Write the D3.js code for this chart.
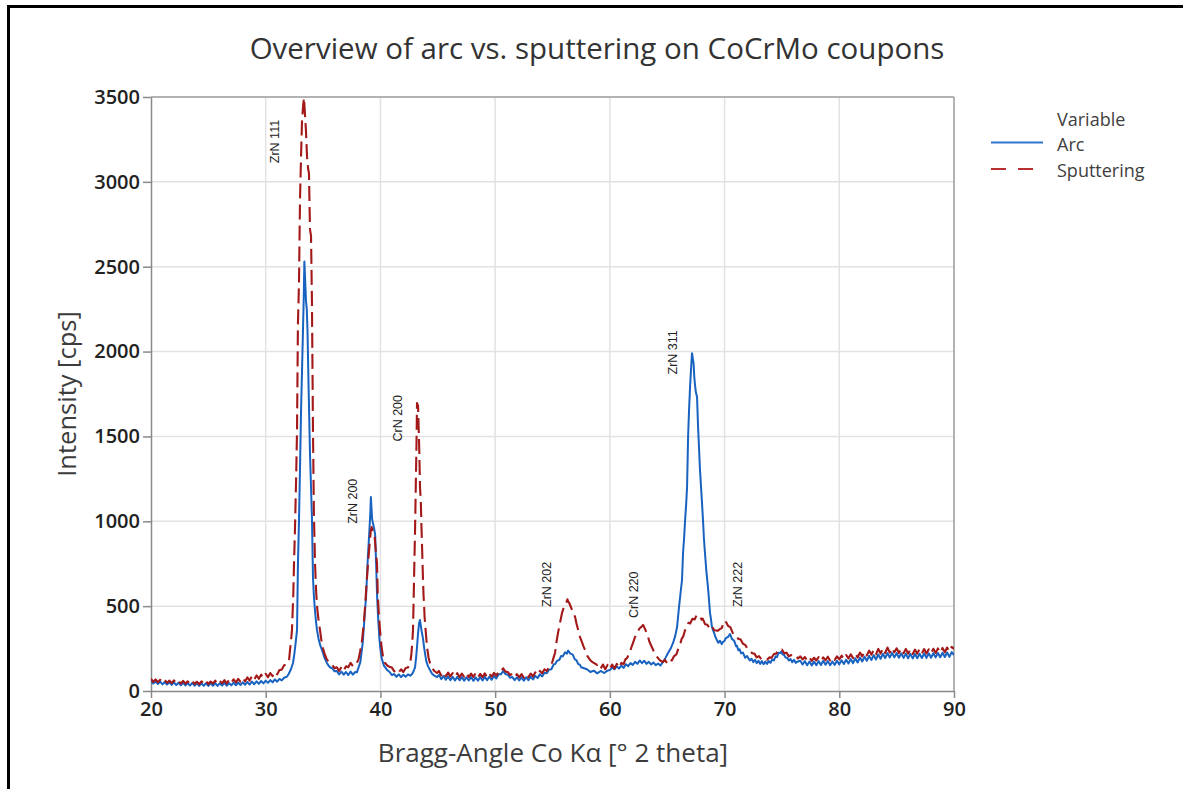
<!DOCTYPE html>
<html><head><meta charset="utf-8">
<script src="https://cdn.jsdelivr.net/npm/d3@7"></script>
<style>body{margin:0;background:#fff;} svg{display:block;font-family:"Open Sans",sans-serif;}</style>
</head><body><svg id="c" width="1183" height="789"></svg>
<script>
// ---- data (2θ angle, intensity cps) ----
const sputteringData = [
[20,72],[20.2,54],[20.4,68],[20.6,52],[20.8,66],[21,50],[21.2,64],[21.4,49],[21.6,61],[21.8,47],[22,63],[22.2,45],[22.4,58],[22.6,44],[22.8,60],[23,43],[23.2,57],[23.4,41],[23.6,58],[23.8,42],[24,55],[24.2,40],[24.4,57],[24.6,43],[24.8,60],[25,41],[25.2,56],[25.4,44],[25.6,61],[25.8,42],[26,59],[26.2,45],[26.4,64],[26.6,44],[26.8,66],[27,48],[27.2,69],[27.4,50],[27.6,72],[27.8,55],[28,77],[28.2,57],[28.4,80],[28.6,61],[28.8,88],[29,66],[29.2,92],[29.4,72],[29.6,96],[29.8,76],[30,101],[30.2,81],[30.4,106],[30.6,88],[30.8,114],[31,98],[31.2,124],[31.4,126],[31.6,152],[31.8,156],[32.03,178],
[32.12,242],[32.2,290],[32.29,360],[32.4,560],[32.47,760],[32.55,950],[32.65,1250],[32.73,1540],[32.81,2170],[32.9,2400],[32.99,2900],[33.08,3150],[33.16,3350],[33.26,3450],[33.34,3495],[33.42,3400],[33.51,3300],[33.6,3150],[33.69,3080],[33.77,3050],[33.86,2720],[33.95,2680],[34.03,2300],[34.12,1540],[34.2,1050],[34.3,750],[34.4,580],[34.5,480],[34.62,410],[34.73,360],[34.85,300],[35.0,250],[35.15,215],[35.3,190],[35.45,175],[35.6,165],
[35.8,156],[36,134],[36.2,140],[36.4,118],[36.6,142],[36.8,120],[37,146],[37.2,140],[37.4,166],[37.6,146],[37.8,170],[38.0,172],
[38.1,190],[38.22,230],[38.4,300],[38.55,400],[38.66,495],[38.8,640],[38.92,754],[39.05,860],[39.15,940],[39.23,966],[39.32,945],[39.42,920],[39.5,907],[39.6,820],[39.7,754],[39.77,560],[39.87,440],[39.96,360],[40.1,260],[40.23,200],[40.4,165],[40.6,150],[40.84,141],
[41,138],[41.2,116],[41.4,126],[41.6,110],[41.8,128],[42,112],[42.2,136],[42.4,138],[42.6,165],
[42.7,220],[42.78,290],[42.84,360],[42.9,554],[42.96,760],[43.02,950],[43.08,1200],[43.14,1440],[43.19,1697],[43.28,1680],[43.38,1438],[43.45,1200],[43.52,1120],[43.58,960],[43.63,849],[43.7,680],[43.76,560],[43.8,518],[43.85,436],[43.95,350],[44.06,260],[44.2,195],[44.32,165],[44.5,135],[44.7,118],[44.93,106],
[45.1,118],[45.3,92],[45.5,112],[45.7,88],[45.9,108],[46.1,86],[46.3,106],[46.5,84],[46.7,105],[46.9,82],[47.1,103],[47.3,84],[47.5,106],[47.7,81],[47.9,102],[48.1,83],[48.3,105],[48.5,80],[48.7,101],[48.9,82],[49.1,104],[49.3,81],[49.5,102],[49.7,84],[49.9,107],[50.1,90],[50.3,116],[50.5,112],[50.7,134],[50.9,114],[51.1,112],[51.3,94],[51.5,102],[51.7,82],[51.9,100],[52.1,80],[52.3,99],[52.5,79],[52.7,100],[52.9,82],[53.1,103],[53.3,86],[53.5,110],[53.7,94],[53.9,118],[54.1,104],[54.3,128],[54.5,118],[54.7,142],
[54.85,150],[55.0,175],[55.1,198],[55.22,224],[55.35,290],[55.48,342],[55.65,400],[55.83,460],[55.95,485],[56.1,505],[56.2,520],[56.3,540],[56.36,528],[56.45,520],[56.6,495],[56.75,470],[56.97,436],[57.1,395],[57.2,370],[57.3,340],[57.4,318],[57.5,300],[57.6,282],[57.72,260],[57.84,242],[57.95,220],[58.05,205],[58.15,195],[58.27,183],[58.4,175],[58.6,165],[58.8,158],[58.88,153],
[59.0,158],[59.2,132],[59.4,156],[59.6,128],[59.8,154],[60.0,130],[60.2,156],[60.4,132],[60.6,160],[60.8,137],[61.0,166],[61.2,158],[61.35,186],[61.5,194],
[61.65,215],[61.8,240],[61.9,262],[62.02,283],[62.15,310],[62.3,335],[62.45,352],[62.6,370],[62.75,378],[62.9,389],[63.0,375],[63.1,360],[63.2,340],[63.33,318],[63.45,290],[63.6,268],[63.77,242],[63.9,220],[64.05,205],[64.2,194],[64.35,182],[64.5,175],[64.64,171],[64.8,184],[65.0,164],[65.2,186],
[65.4,180],[65.6,206],[65.8,216],[66.0,256],[66.1,264],[66.25,306],[66.4,322],[66.55,358],[66.7,370],[66.85,402],[67.0,398],[67.2,426],[67.4,422],[67.55,446],[67.7,442],[67.85,444],[68.0,420],[68.1,426],[68.3,394],[68.5,390],[68.7,368],[68.9,382],[69.1,358],[69.3,356],[69.45,356],[69.6,366],[69.75,370],[69.9,400],[70.0,414],[70.15,404],[70.3,384],[70.5,376],[70.75,336],[71.0,330],[71.2,306],[71.4,304],[71.6,278],[71.8,272],[71.96,254],[72.2,246],[72.4,222],[72.6,220],[72.8,198],[73.0,206],[73.2,188],[73.4,194],[73.7,184],[73.9,198],[74.1,196],[74.3,218],[74.5,220],[74.7,244],[74.85,240],[75.0,244],[75.2,222],[75.4,226],[75.6,204],[75.8,212],[76.0,200],[76.2,206],[76.4,192],
[76.6,204],[76.8,186],[77.0,200],[77.2,180],[77.4,198],[77.6,178],[77.8,196],[78.0,180],[78.2,200],[78.4,178],[78.6,198],[78.8,181],[79.0,202],[79.2,180],[79.4,197],[79.6,183],[79.8,204],[80.0,186],[80.2,208],[80.4,188],[80.6,212],[80.8,192],[81.0,216],[81.2,194],[81.4,222],[81.6,198],[81.8,226],[82.0,204],[82.2,232],[82.4,210],[82.6,238],[82.8,214],[83.0,242],[83.2,216],[83.4,248],[83.6,220],[83.8,252],[84.0,224],[84.2,256],[84.4,226],[84.6,254],[84.8,228],[85.0,252],[85.2,224],[85.4,250],[85.6,222],[85.8,248],[86.0,220],[86.2,246],[86.4,218],[86.6,244],[86.8,220],[87.0,248],[87.2,222],[87.4,247],[87.6,221],[87.8,246],[88.0,222],[88.2,249],[88.4,224],[88.6,251],[88.8,226],[89.0,254],[89.2,228],[89.4,256],[89.6,232],[89.8,260],[90,248]
];
const arcData = [
[20,60],[20.2,44],[20.4,57],[20.6,41],[20.8,55],[21,39],[21.2,53],[21.4,38],[21.6,52],[21.8,36],[22,51],[22.2,35],[22.4,49],[22.6,34],[22.8,50],[23,33],[23.2,47],[23.4,32],[23.6,48],[23.8,31],[24,46],[24.2,30],[24.4,45],[24.6,31],[24.8,47],[25,30],[25.2,46],[25.4,31],[25.6,47],[25.8,30],[26,46],[26.2,32],[26.4,48],[26.6,31],[26.8,47],[27,33],[27.2,49],[27.4,34],[27.6,50],[27.8,35],[28,51],[28.2,37],[28.4,53],[28.6,38],[28.8,55],[29,40],[29.2,57],[29.4,42],[29.6,59],[29.8,45],[30,61],[30.2,48],[30.4,64],[30.6,51],[30.8,68],[31,55],[31.2,71],[31.4,62],[31.6,78],[31.86,85],
[32.0,100],[32.2,128],[32.38,165],[32.5,220],[32.62,290],[32.73,360],[32.81,750],[32.9,1000],[33.0,1350],[33.08,1650],[33.17,1900],[33.25,2130],[33.31,2300],[33.37,2530],[33.44,2420],[33.51,2300],[33.58,2250],[33.64,2130],[33.75,1750],[33.86,1400],[33.95,1200],[34.03,1020],[34.12,670],[34.2,560],[34.3,470],[34.4,400],[34.47,360],[34.6,310],[34.75,270],[34.91,240],[35.1,200],[35.3,170],[35.45,152],[35.6,140],
[35.8,134],[36.0,116],[36.2,118],[36.4,98],[36.6,114],[36.8,96],[37.0,112],[37.2,94],[37.4,114],[37.6,96],[37.8,112],[37.95,110],
[38.1,140],[38.25,170],[38.45,280],[38.6,420],[38.75,560],[38.9,780],[39.05,960],[39.12,1050],[39.17,1143],[39.22,1080],[39.28,1010],[39.38,980],[39.47,950],[39.54,920],[39.62,760],[39.71,560],[39.8,430],[39.9,320],[39.97,265],[40.1,195],[40.3,150],[40.58,124],
[40.8,112],[41.0,94],[41.2,100],[41.4,84],[41.6,98],[41.8,82],[42.0,96],[42.2,84],[42.4,98],[42.6,90],[42.76,100],
[42.9,118],[43.02,141],[43.1,190],[43.19,260],[43.28,340],[43.37,400],[43.45,418],[43.52,385],[43.6,350],[43.71,310],[43.8,260],[43.89,220],[44.0,175],[44.15,145],[44.32,124],[44.5,102],[44.7,90],[44.93,82],
[45.1,94],[45.3,70],[45.5,88],[45.7,66],[45.9,86],[46.1,64],[46.3,84],[46.5,62],[46.7,83],[46.9,63],[47.1,82],[47.3,61],[47.5,81],[47.7,62],[47.9,82],[48.1,60],[48.3,80],[48.5,61],[48.7,82],[48.9,62],[49.1,83],[49.3,64],[49.5,85],[49.7,66],[49.9,88],[50.1,74],[50.3,98],[50.5,98],[50.7,118],[50.9,100],[51.1,96],[51.3,78],[51.5,82],[51.7,64],[51.9,81],[52.1,62],[52.3,80],[52.5,61],[52.7,81],[52.9,64],[53.1,84],[53.3,68],[53.5,89],[53.7,76],[53.9,98],[54.1,86],[54.3,108],[54.5,104],[54.7,126],
[54.9,128],[55.1,156],[55.25,160],[55.4,178],[55.6,184],[55.75,206],[55.9,204],[56.1,228],[56.25,220],[56.36,238],[56.55,220],[56.75,216],[56.95,186],[57.1,180],[57.23,160],[57.4,154],[57.5,140],[57.75,134],[58.0,128],[58.3,112],[58.6,120],[58.9,104],[59.2,118],[59.5,106],[59.8,120],[60.02,124],[60.2,138],[60.4,128],[60.6,146],[60.8,132],[61.0,150],[61.2,136],[61.4,158],[61.6,146],[61.8,164],[62.0,154],[62.2,172],[62.4,160],[62.6,180],[62.8,164],[63.0,178],[63.2,160],[63.4,172],[63.6,156],[63.8,168],[64.0,152],[64.2,162],[64.4,150],[64.64,172],
[64.85,195],[65.07,224],[65.3,250],[65.51,283],[65.7,325],[65.86,377],[66.03,495],[66.15,570],[66.29,654],[66.38,813],[66.47,900],[66.56,1007],[66.65,1100],[66.73,1202],[66.82,1497],[66.9,1650],[66.99,1790],[67.08,1900],[67.16,1990],[67.23,1960],[67.3,1930],[67.36,1850],[67.43,1800],[67.5,1760],[67.6,1732],[67.69,1556],[67.78,1420],[67.86,1300],[67.95,1200],[68.04,1100],[68.12,1007],[68.2,900],[68.29,813],[68.42,700],[68.55,613],[68.64,540],[68.73,460],[68.82,420],[68.9,377],[69.1,340],[69.2,318],[69.33,300],[69.45,284],[69.6,296],[69.75,276],[69.86,290],[70.0,296],[70.1,312],[70.3,318],[70.47,336],[70.65,306],[70.85,294],[71.0,264],[71.08,266],[71.2,240],[71.3,246],[71.45,222],[71.6,226],[71.8,196],[71.96,206],[72.2,180],[72.35,190],[72.5,170],[72.65,184],[72.8,164],[72.95,178],[73.1,160],[73.25,176],[73.4,158],[73.55,174],[73.7,160],[73.85,176],[74.0,166],[74.15,186],[74.3,180],[74.45,204],[74.58,200],[74.7,226],[74.84,224],[74.95,232],[75.05,216],[75.2,212],[75.3,198],[75.45,196],[75.6,180],[75.75,188],[75.9,170],[76.05,184],[76.2,166],[76.4,174],
[76.6,178],[76.8,156],[77.0,176],[77.2,152],[77.4,174],[77.6,151],[77.8,173],[78.0,152],[78.2,176],[78.4,153],[78.6,178],[78.8,155],[79.0,176],[79.2,152],[79.4,174],[79.6,154],[79.8,178],[80.0,157],[80.2,181],[80.4,159],[80.6,184],[80.8,162],[81.0,188],[81.2,164],[81.4,192],[81.6,168],[81.8,197],[82.0,174],[82.2,202],[82.4,178],[82.6,207],[82.8,183],[83.0,211],[83.2,186],[83.4,215],[83.6,190],[83.8,219],[84.0,194],[84.2,223],[84.4,197],[84.6,225],[84.8,198],[85.0,223],[85.2,196],[85.4,221],[85.6,195],[85.8,220],[86.0,193],[86.2,219],[86.4,192],[86.6,218],[86.8,193],[87.0,219],[87.2,194],[87.4,221],[87.6,195],[87.8,222],[88.0,196],[88.2,223],[88.4,198],[88.6,224],[88.8,199],[89.0,225],[89.2,200],[89.4,227],[89.6,201],[89.8,229],[90,212]
];
const seriesNames = ["Arc", "Sputtering"];
const peakLabels = ["ZrN 111", "ZrN 200", "CrN 200", "ZrN 202", "CrN 220", "ZrN 311", "ZrN 222"];
const peakLabelAngle = [30.8, 37.6, 41.5, 54.5, 62.1, 65.5, 71.1];
const peakLabelCps = [3110, 985, 1470, 495, 430, 1865, 495];
const angleTicks = [20, 30, 40, 50, 60, 70, 80, 90];
const cpsTicks = [0, 500, 1000, 1500, 2000, 2500, 3000, 3500];

// ---- drawing ----
const svg = d3.select("#c");
const L = 151, R = 954, T = 97, B = 691;
const x = d3.scaleLinear().domain([20, 90]).range([L, R]);
const y = d3.scaleLinear().domain([0, 3500]).range([B, T]);
const arcColor = "#1862c0", spColor = "#a31818";

svg.append("rect").attr("width", 1183).attr("height", 789).attr("fill", "#fff");
svg.append("rect").attr("x", 8.5).attr("y", 6.5).attr("width", 1400).attr("height", 1000)
  .attr("fill", "none").attr("stroke", "#000").attr("stroke-width", 3);

svg.append("text").attr("x", 597).attr("y", 59).attr("text-anchor", "middle")
  .attr("font-size", 29.5).attr("fill", "#333").text("Overview of arc vs. sputtering on CoCrMo coupons");

// grid
const g = svg.append("g");
g.selectAll("line.gx").data(angleTicks.slice(1, -1)).join("line")
  .attr("x1", d => x(d)).attr("x2", d => x(d)).attr("y1", T).attr("y2", B)
  .attr("stroke", "#e2e2e2").attr("stroke-width", 1.5);
g.selectAll("line.gy").data(cpsTicks.slice(1, -1)).join("line")
  .attr("y1", d => y(d)).attr("y2", d => y(d)).attr("x1", L).attr("x2", R)
  .attr("stroke", "#e2e2e2").attr("stroke-width", 1.5);
svg.append("line").attr("x1", L).attr("x2", R).attr("y1", T).attr("y2", T).attr("stroke", "#9a9a9a").attr("stroke-width", 1.5);
svg.append("line").attr("x1", R).attr("x2", R).attr("y1", T).attr("y2", B).attr("stroke", "#9a9a9a").attr("stroke-width", 1.5);

// axes
const ax = svg.append("g").attr("transform", `translate(0,${B})`)
  .call(d3.axisBottom(x).tickValues(angleTicks).tickFormat(d3.format("d")).tickSize(7).tickSizeOuter(0).tickPadding(4));
const ay = svg.append("g").attr("transform", `translate(${L},0)`)
  .call(d3.axisLeft(y).tickValues(cpsTicks).tickFormat(d3.format("d")).tickSize(8).tickSizeOuter(0).tickPadding(3));
[ax, ay].forEach(a => {
  a.select(".domain").attr("stroke", "#8a8a8a").attr("stroke-width", 1.5);
  a.selectAll(".tick line").attr("stroke", "#8a8a8a").attr("stroke-width", 1.5);
  a.selectAll(".tick text").attr("font-family", "Open Sans").attr("font-size", 20)
    .attr("font-weight", 600).attr("fill", "#222");
});

// axis titles
svg.append("text").attr("x", 553).attr("y", 762).attr("text-anchor", "middle")
  .attr("font-size", 26).attr("fill", "#3c3c3c").text("Bragg-Angle Co Kα [° 2 theta]");
svg.append("text").attr("transform", "translate(76,394) rotate(-90)").attr("text-anchor", "middle")
  .attr("font-size", 25.5).attr("fill", "#3c3c3c").text("Intensity [cps]");

// lines
svg.append("clipPath").attr("id", "clip").append("rect")
  .attr("x", L).attr("y", T - 2).attr("width", R - L).attr("height", B - T + 2);
const line = d3.line().x(d => x(d[0])).y(d => y(d[1]));
const lg = svg.append("g").attr("clip-path", "url(#clip)");
lg.append("path").datum(arcData).attr("d", line).attr("fill", "none")
  .attr("stroke", arcColor).attr("stroke-width", 2).attr("stroke-linejoin", "round");
lg.append("path").datum(sputteringData).attr("d", line).attr("fill", "none")
  .attr("stroke", spColor).attr("stroke-width", 2.1).attr("stroke-dasharray", "15,6").attr("stroke-linejoin", "round");

// peak labels
svg.selectAll("text.peak").data(peakLabels).join("text").attr("class", "peak")
  .attr("transform", (d, i) => `translate(${x(peakLabelAngle[i])},${y(peakLabelCps[i])}) rotate(-90)`)
  .attr("dy", "0.35em").attr("font-family", "Liberation Sans, Arial, sans-serif")
  .attr("font-size", 12.5).attr("fill", "#222").text(d => d);

// legend
const leg = svg.append("g");
leg.append("text").attr("x", 1057).attr("y", 126).attr("font-size", 18).attr("fill", "#404040").text("Variable");
seriesNames.forEach((n, i) => {
  const yy = 142.5 + i * 26.5;
  leg.append("line").attr("x1", 991).attr("x2", 1043).attr("y1", yy).attr("y2", yy)
    .attr("stroke", i === 0 ? "#2f74cc" : "#b8302f").attr("stroke-width", 2)
    .attr("stroke-dasharray", i === 0 ? null : "15,12");
  leg.append("text").attr("x", 1057).attr("y", yy + 8).attr("font-size", 18).attr("fill", "#404040").text(n);
});
</script></body></html>
